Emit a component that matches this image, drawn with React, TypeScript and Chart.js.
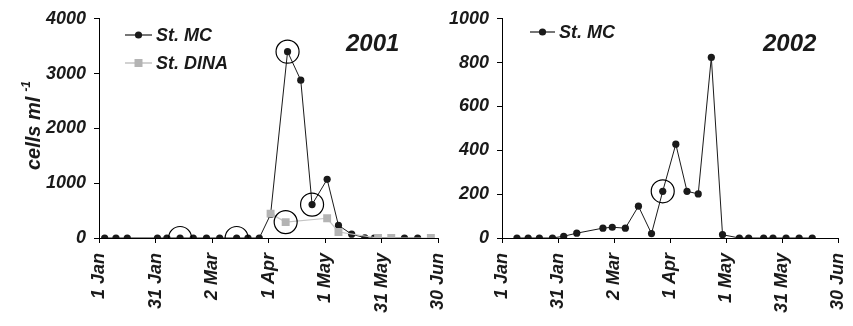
import React, { useEffect, useRef } from "react";
import { Chart, registerables } from "chart.js";
Chart.register(...registerables);

const tickDays = [0, 30, 60, 90, 120, 150, 180];
const tickLabels = ["1 Jan", "31 Jan", "2 Mar", "1 Apr", "1 May", "31 May", "30 Jun"];

const mc2001Days = [3, 9, 15, 31, 36, 43, 50, 57, 64, 73, 79, 85, 91, 100, 107, 113, 121, 127, 134, 141, 146, 162, 169];
const mc2001Values = [0, 0, 0, 0, 0, 0, 0, 0, 0, 0, 0, 0, 430, 3400, 2880, 610, 1070, 230, 70, 5, 0, 0, 0];
const dina2001Days = [91, 99, 121, 127, 148, 155, 176];
const dina2001Values = [445, 290, 360, 110, 0, 0, 0];
const circled2001Days = [43, 73, 100, 113, 99];
const circled2001Values = [0, 0, 3400, 610, 290];

const mc2002Days = [8, 14, 20, 27, 33, 40, 54, 59, 66, 73, 80, 86, 93, 99, 105, 112, 118, 127, 132, 140, 145, 152, 159, 166];
const mc2002Values = [0, 0, 0, 0, 8, 22, 45, 49, 45, 145, 20, 213, 428, 213, 201, 824, 15, 0, 0, 0, 0, 0, 0, 0];
const circled2002Days = [86];
const circled2002Values = [213];

const yTicks2001 = [0, 1000, 2000, 3000, 4000];
const yTicks2002 = [0, 200, 400, 600, 800, 1000];

const FAMILY = "'Liberation Sans', Arial, Helvetica, sans-serif";
const INK = "#1a1a1a";
const GREY = "#b4b4b4";

const pts = (xs: number[], ys: number[]) => xs.map((x, i) => ({ x, y: ys[i] }));
const fontStr = (size: number) => `italic bold ${size}px ${FAMILY}`;

function drawLegendItem(ctx: CanvasRenderingContext2D, x: number, y: number, len: number, kind: "mc" | "dina", text: string) {
  ctx.save();
  ctx.strokeStyle = kind === "mc" ? INK : GREY;
  ctx.lineWidth = 1.2;
  ctx.beginPath();
  ctx.moveTo(x, y);
  ctx.lineTo(x + len, y);
  ctx.stroke();
  ctx.fillStyle = kind === "mc" ? INK : GREY;
  ctx.beginPath();
  if (kind === "mc") {
    ctx.arc(x + len / 2, y, 3.6, 0, Math.PI * 2);
  } else {
    ctx.rect(x + len / 2 - 4, y - 4, 8, 8);
  }
  ctx.fill();
  ctx.fillStyle = INK;
  ctx.font = fontStr(18);
  ctx.textAlign = "left";
  ctx.textBaseline = "middle";
  ctx.fillText(text, x + len + 4, y + 1);
  ctx.restore();
}

type Decor = {
  legend: { x: number; y: number; len: number; kind: "mc" | "dina"; text: string }[];
  year: { x: number; y: number; text: string };
  yTitle?: boolean;
};

function makeDecor(decor: Decor) {
  return {
    id: "decor",
    afterDraw(chart: any) {
      const ctx: CanvasRenderingContext2D = chart.ctx;
      decor.legend.forEach((l) => drawLegendItem(ctx, l.x, l.y, l.len, l.kind, l.text));
      ctx.save();
      ctx.fillStyle = INK;
      ctx.font = fontStr(24);
      ctx.textAlign = "left";
      ctx.textBaseline = "middle";
      ctx.fillText(decor.year.text, decor.year.x, decor.year.y);
      ctx.restore();
      if (decor.yTitle) {
        ctx.save();
        ctx.fillStyle = INK;
        ctx.translate(40, 170);
        ctx.rotate(-Math.PI / 2);
        ctx.font = fontStr(20);
        ctx.textAlign = "left";
        ctx.textBaseline = "alphabetic";
        ctx.fillText("cells ml", 0, 0);
        const w = ctx.measureText("cells ml").width;
        ctx.font = fontStr(12);
        ctx.fillText("-1", w + 5, -10);
        ctx.restore();
      }
    },
  };
}

function makeConfig(
  datasets: any[],
  yMax: number,
  yTicks: number[],
  yWidth: number,
  padRight: number,
  decor: Decor
): any {
  const tickFont = { family: FAMILY, size: 18, weight: "bold", style: "italic" };
  return {
    type: "line",
    data: { datasets },
    plugins: [makeDecor(decor)],
    options: {
      animation: false,
      responsive: false,
      devicePixelRatio: 1,
      layout: { padding: { left: 0, top: 15, right: padRight, bottom: 0 } },
      plugins: { legend: { display: false }, tooltip: { enabled: false } },
      scales: {
        x: {
          type: "linear",
          min: 0,
          max: 180,
          afterFit: (s: any) => {
            s.height = 88;
          },
          afterBuildTicks: (s: any) => {
            s.ticks = tickDays.map((v) => ({ value: v }));
          },
          ticks: {
            autoSkip: false,
            minRotation: 90,
            maxRotation: 90,
            padding: 10,
            color: INK,
            font: tickFont,
            callback: (v: number) => {
              const i = tickDays.indexOf(v);
              return i >= 0 ? tickLabels[i] : "";
            },
          },
          grid: { drawOnChartArea: false, drawTicks: true, tickLength: 5, color: "#000" },
          border: { display: true, color: "#000", width: 1 },
        },
        y: {
          type: "linear",
          min: 0,
          max: yMax,
          afterFit: (s: any) => {
            s.width = yWidth;
          },
          afterBuildTicks: (s: any) => {
            s.ticks = yTicks.map((v) => ({ value: v }));
          },
          ticks: {
            padding: 8,
            color: INK,
            font: tickFont,
            callback: (v: number) => String(v),
          },
          grid: { drawOnChartArea: false, drawTicks: true, tickLength: 5, color: "#000" },
          border: { display: true, color: "#000", width: 1 },
        },
      },
    },
  };
}

const circleDataset = (data: any[]) => ({
  label: "circled",
  data,
  showLine: false,
  pointStyle: "circle",
  pointRadius: 11.5,
  pointBorderWidth: 1.2,
  pointBorderColor: "#000",
  pointBackgroundColor: "rgba(0,0,0,0)",
  order: 0,
});

export default function App() {
  const leftRef = useRef<HTMLCanvasElement>(null);
  const rightRef = useRef<HTMLCanvasElement>(null);

  useEffect(() => {
    const left = new Chart(
      leftRef.current!,
      makeConfig(
        [
          circleDataset(pts(circled2001Days, circled2001Values)),
          {
            label: "St. DINA",
            data: pts(dina2001Days, dina2001Values),
            borderColor: "#c4c4c4",
            borderWidth: 1.2,
            pointStyle: "rect",
            pointRadius: 5.6,
            pointBackgroundColor: GREY,
            pointBorderColor: GREY,
            pointBorderWidth: 0,
            order: 1,
          },
          {
            label: "St. MC",
            data: pts(mc2001Days, mc2001Values),
            borderColor: INK,
            borderWidth: 1,
            pointStyle: "circle",
            pointRadius: 3.6,
            pointBackgroundColor: INK,
            pointBorderColor: INK,
            pointBorderWidth: 0,
            order: 2,
          },
        ],
        4000,
        yTicks2001,
        99,
        23,
        {
          legend: [
            { x: 125, y: 35, len: 27, kind: "mc", text: "St. MC" },
            { x: 125, y: 63, len: 27, kind: "dina", text: "St. DINA" },
          ],
          year: { x: 346, y: 44, text: "2001" },
          yTitle: true,
        }
      )
    );
    const right = new Chart(
      rightRef.current!,
      makeConfig(
        [
          circleDataset(pts(circled2002Days, circled2002Values)),
          {
            label: "St. MC",
            data: pts(mc2002Days, mc2002Values),
            borderColor: INK,
            borderWidth: 1,
            pointStyle: "circle",
            pointRadius: 3.6,
            pointBackgroundColor: INK,
            pointBorderColor: INK,
            pointBorderWidth: 0,
            order: 2,
          },
        ],
        1000,
        yTicks2002,
        72,
        27,
        {
          legend: [{ x: 100, y: 32, len: 25, kind: "mc", text: "St. MC" }],
          year: { x: 333, y: 44, text: "2002" },
        }
      )
    );
    return () => {
      left.destroy();
      right.destroy();
    };
  }, []);

  return (
    <div
      style={{
        position: "absolute",
        left: 0,
        top: 0,
        width: 853,
        height: 326,
        overflow: "hidden",
        background: "#fff",
      }}
    >
      <canvas ref={leftRef} width={470} height={326} style={{ position: "absolute", left: 0, top: 0 }} />
      <canvas ref={rightRef} width={440} height={326} style={{ position: "absolute", left: 430, top: 0 }} />
    </div>
  );
}
